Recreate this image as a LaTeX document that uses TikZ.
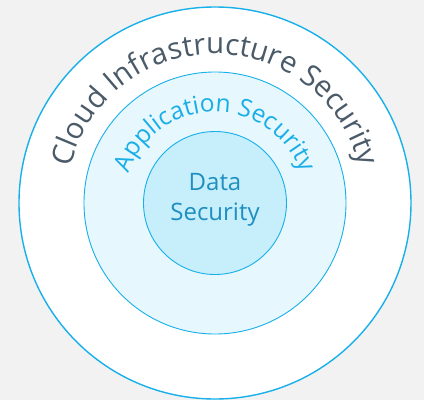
\documentclass[tikz,border=0pt]{standalone}
\usepackage{fontspec}
\setmainfont{Open Sans}
\usepackage{tikz}
\usetikzlibrary{decorations.text}

\definecolor{ringblue}{RGB}{24,176,234}
\definecolor{appfill}{RGB}{230,248,254}
\definecolor{datafill}{RGB}{198,238,251}
\definecolor{cloudtext}{RGB}{74,90,104}
\definecolor{apptext}{RGB}{26,174,230}
\definecolor{datatext}{RGB}{30,143,192}

\begin{document}
\begin{tikzpicture}[x=1pt,y=1pt]
		% Background
		\fill[black!5] (-215,-197) rectangle (209,203);
		\useasboundingbox (-215,-197) rectangle (209,203);

		% Cloud infrastructure ring
		\draw[ringblue,line width=1.4pt,fill=white] (0,0) circle (196);
		\path[decorate,decoration={text along path,text align=center,
			text={|\fontsize{29.5}{34}\selectfont\color{cloudtext}|Cloud Infrastructure Security}}]
			(180:149) arc[start angle=180,end angle=0,radius=149];

		% Application ring
		\draw[ringblue,line width=0.9pt,fill=appfill] (0,0) circle (131);
		\path[decorate,decoration={text along path,text align=center,
			text={|\fontsize{24.5}{29}\selectfont\color{apptext}|Application Security}}]
			(180:91) arc[start angle=180,end angle=0,radius=91];

		% Data core
		\draw[ringblue,line width=0.9pt,fill=datafill] (0,0) circle (71.5);
		\node[datatext,align=center,font=\fontsize{24}{30}\selectfont] (data) at (0,3) {Data\\Security};
	\end{tikzpicture}
\end{document}
